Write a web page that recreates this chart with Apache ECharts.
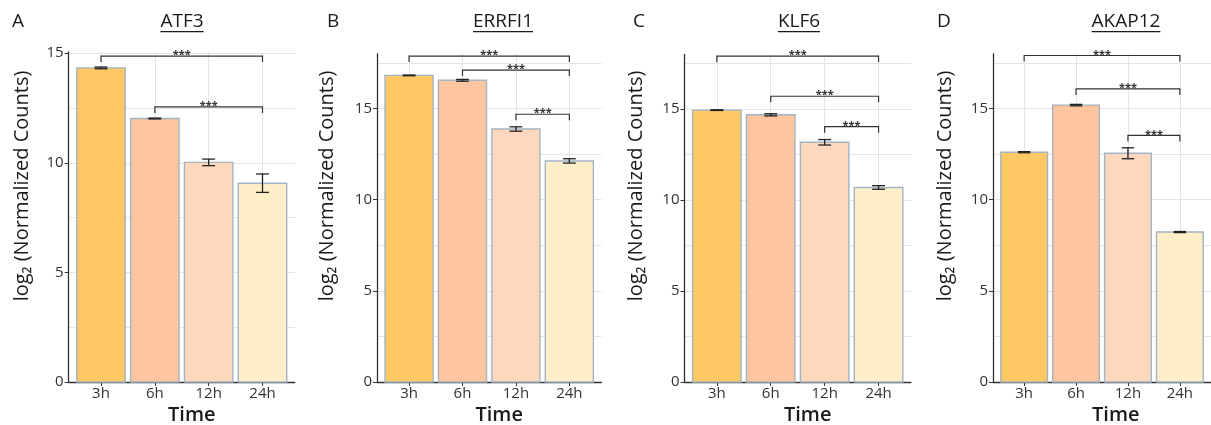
<!DOCTYPE html>
<html>
<head>
<meta charset="utf-8">
<script src="https://cdn.jsdelivr.net/npm/echarts@6/dist/echarts.min.js"></script>
<style>
html, body { margin: 0; padding: 0; background: #fff; }
#main { width: 1211px; height: 425px; }
</style>
</head>
<body>
<div id="main"></div>
<script>
// categories and panel names
var times = ['3h', '6h', '12h', '24h'];
var genes = ['ATF3', 'ERRFI1', 'KLF6', 'AKAP12'];
var letters = ['A', 'B', 'C', 'D'];

// mean log2 counts per time point, and +/- error
var atf3Mean = [14.33, 12.02, 10.02, 9.07];
var atf3Err = [0.04, 0.02, 0.15, 0.42];
var errfi1Mean = [16.81, 16.54, 13.87, 12.12];
var errfi1Err = [0.02, 0.05, 0.12, 0.12];
var klf6Mean = [14.94, 14.68, 13.17, 10.69];
var klf6Err = [0.02, 0.06, 0.15, 0.1];
var akap12Mean = [12.6, 15.18, 12.54, 8.22];
var akap12Err = [0.03, 0.04, 0.3, 0.03];

// significance brackets: [from, to, height]
var atf3Sig = [[0, 3, 14.87], [1, 3, 12.55]];
var errfi1Sig = [[0, 3, 17.87], [1, 3, 17.1], [2, 3, 14.68]];
var klf6Sig = [[0, 3, 17.9], [1, 3, 15.7], [2, 3, 14.03]];
var akap12Sig = [[0, 3, 17.9], [1, 3, 16.07], [2, 3, 13.52]];

// y axis range and labelled ticks
var yMax = [15.06, 18, 18, 18];
var yTicks = [0, 5, 10, 15];

var means = [atf3Mean, errfi1Mean, klf6Mean, akap12Mean];
var errs = [atf3Err, errfi1Err, klf6Err, akap12Err];
var sigs = [atf3Sig, errfi1Sig, klf6Sig, akap12Sig];

var barColors = ['#FEC864', '#FEC59F', '#FED8BD', '#FEEFC8'];
var gridColor = '#E5E5E5';
var font = '"Open Sans", "Noto Sans", sans-serif';

// panel layout (pixels)
var panels = [
    {left: 68.7, width: 226.1, bottom: 382, unit: 21.92, yTitleX: 22, letterX: 12, titleX: 182},
    {left: 377, width: 224.4, bottom: 382, unit: 18.24, yTitleX: 327, letterX: 327, titleX: 503},
    {left: 684.5, width: 226.4, bottom: 382, unit: 18.2, yTitleX: 636, letterX: 633, titleX: 799},
    {left: 993, width: 225.5, bottom: 382, unit: 18.24, yTitleX: 945, letterX: 937, titleX: 1126}
];

var myChart = echarts.init(document.getElementById('main'));

function renderBar(params, api) {
    var x = api.value(0);
    var p0 = api.coord([x - 0.45, api.value(1)]);
    var p1 = api.coord([x + 0.45, 0]);
    return {
        type: 'rect',
        shape: {x: p0[0], y: p0[1], width: p1[0] - p0[0], height: p1[1] - p0[1]},
        style: {fill: barColors[x], stroke: '#A3B5C4', lineWidth: 1.4}
    };
}

function renderErr(params, api) {
    var x = api.value(0);
    var lo = api.coord([x, api.value(1)]);
    var hi = api.coord([x, api.value(2)]);
    var hw = api.size([0.12, 0])[0];
    var st = {stroke: '#222', lineWidth: 1.3};
    return {
        type: 'group',
        children: [
            {type: 'line', shape: {x1: hi[0], y1: hi[1], x2: lo[0], y2: lo[1]}, style: st},
            {type: 'line', shape: {x1: hi[0] - hw, y1: hi[1], x2: hi[0] + hw, y2: hi[1]}, style: st},
            {type: 'line', shape: {x1: lo[0] - hw, y1: lo[1], x2: lo[0] + hw, y2: lo[1]}, style: st}
        ]
    };
}

function renderSig(params, api) {
    var a = api.coord([api.value(0), api.value(2)]);
    var b = api.coord([api.value(1), api.value(2)]);
    return {
        type: 'group',
        children: [
            {
                type: 'polyline',
                shape: {points: [[a[0], a[1] + 6], [a[0], a[1]], [b[0], b[1]], [b[0], b[1] + 6]]},
                style: {stroke: '#333', fill: null, lineWidth: 1.2}
            },
            {
                type: 'text',
                x: (a[0] + b[0]) / 2,
                y: a[1] - 1,
                style: {text: '***', fontSize: 11, fontWeight: 'bold', fontFamily: font, fill: '#333', align: 'center', verticalAlign: 'middle'}
            }
        ]
    };
}

var grids = [], xAxes = [], yAxes = [], series = [], graphics = [];
var measure = document.createElement('canvas').getContext('2d');
measure.font = '19px ' + font;

panels.forEach(function (p, g) {
    var height = yMax[g] * p.unit;
    grids.push({left: p.left, top: p.bottom - height, width: p.width, height: height});
    xAxes.push({
        type: 'value', gridIndex: g, min: -0.6, max: 3.6,
        axisLine: {onZero: false, lineStyle: {color: '#333', width: 1.3}},
        axisTick: {customValues: [0, 1, 2, 3], length: 4, lineStyle: {color: '#333'}},
        axisLabel: {customValues: [0, 1, 2, 3], formatter: function (v) { return times[v]; },
            color: '#333', fontSize: 15, fontFamily: font, margin: 4},
        splitLine: {show: true, lineStyle: {color: gridColor}}
    });
    yAxes.push({
        type: 'value', gridIndex: g, min: 0, max: yMax[g], interval: 5,
        axisLine: {show: true, onZero: false, lineStyle: {color: '#333', width: 1.3}},
        axisTick: {show: true, customValues: yTicks, length: 4, lineStyle: {color: '#333'}},
        axisLabel: {customValues: yTicks, color: '#333', fontSize: 15, fontFamily: font, margin: 5},
        splitLine: {show: false}
    });
    yAxes.push({
        type: 'value', gridIndex: g, min: 0, max: yMax[g], interval: 2.5, position: 'left',
        axisLine: {show: false, onZero: false}, axisTick: {show: false}, axisLabel: {show: false},
        splitLine: {show: true, showMaxLine: false, lineStyle: {color: gridColor}}
    });

    series.push({
        type: 'custom', name: genes[g], xAxisIndex: g, yAxisIndex: 2 * g, clip: false,
        renderItem: renderBar, encode: {x: 0, y: 1},
        data: means[g].map(function (m, i) { return [i, m]; })
    });
    series.push({
        type: 'custom', xAxisIndex: g, yAxisIndex: 2 * g, clip: false, z: 3,
        renderItem: renderErr, encode: {x: 0, y: [1, 2]},
        data: means[g].map(function (m, i) { return [i, m - errs[g][i], m + errs[g][i]]; })
    });
    series.push({
        type: 'custom', xAxisIndex: g, yAxisIndex: 2 * g, clip: false, z: 4,
        renderItem: renderSig, encode: {x: [0, 1], y: 2},
        data: sigs[g]
    });

    var tw = measure.measureText(genes[g]).width;
    graphics.push({
        type: 'text', x: p.letterX, y: 22,
        style: {text: letters[g], fontSize: 19, fontFamily: font, fill: '#1a1a1a', align: 'left', verticalAlign: 'middle'}
    });
    graphics.push({
        type: 'text', x: p.titleX, y: 22,
        style: {text: genes[g], fontSize: 19, fontFamily: font, fill: '#1a1a1a', align: 'center', verticalAlign: 'middle'}
    });
    graphics.push({
        type: 'rect', shape: {x: p.titleX - tw / 2, y: 31, width: tw, height: 1.3},
        style: {fill: '#1a1a1a'}
    });
    graphics.push({
        type: 'text', x: p.left + p.width / 2 + 10, y: 415,
        style: {text: 'Time', fontSize: 20, fontWeight: 600, fontFamily: font, fill: '#1a1a1a', align: 'center', verticalAlign: 'middle'}
    });
    graphics.push({
        type: 'text', x: p.yTitleX, y: 186, rotation: Math.PI / 2,
        style: {text: 'log₂ (Normalized Counts)', fontSize: 20, fontFamily: font, fill: '#1a1a1a', align: 'center', verticalAlign: 'middle'}
    });
});

option = {
    backgroundColor: '#fff',
    animation: false,
    grid: grids,
    xAxis: xAxes,
    yAxis: yAxes,
    series: series,
    graphic: graphics
};

myChart.setOption(option);
</script>
</body>
</html>
